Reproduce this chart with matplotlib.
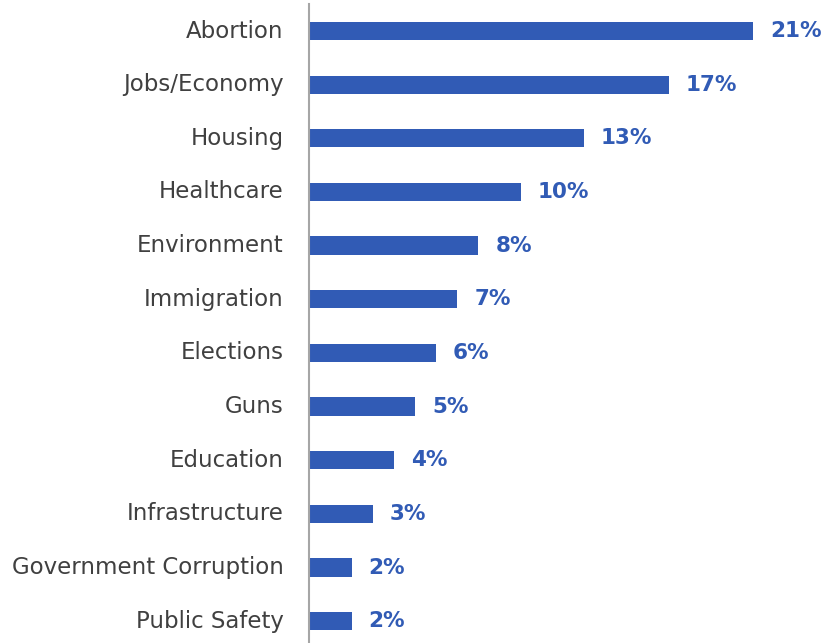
import matplotlib.pyplot as plt

categories = [
    "Abortion", "Jobs/Economy", "Housing", "Healthcare", "Environment",
    "Immigration", "Elections", "Guns", "Education", "Infrastructure",
    "Government Corruption", "Public Safety",
]
values = [21, 17, 13, 10, 8, 7, 6, 5, 4, 3, 2, 2]

bar_color = "#315BB5"

fig = plt.figure(figsize=(8.24, 6.43), dpi=100)
ax = fig.add_axes([0.3755, -0.0078, 0.6245, 1.0013])

y = list(range(len(categories)))
ax.barh(y, values, height=0.34, color=bar_color)
ax.set_ylim(len(categories) - 0.5, -0.5)
ax.set_xlim(0, 24.36)

ax.set_yticks(y)
ax.set_yticklabels(categories, fontsize=16.5, color="#404040", va="center")
ax.tick_params(axis="y", length=0, pad=18.5)
ax.set_xticks([])

for spine in ["top", "right", "bottom"]:
    ax.spines[spine].set_visible(False)
ax.spines["left"].set_color("#A6A6A6")
ax.spines["left"].set_linewidth(1.5)

for yi, v in zip(y, values):
    ax.text(v + 0.8, yi, f"{v}%", va="center", ha="left",
            fontsize=15.5, fontweight="bold", color=bar_color)

fig.savefig("out.png", dpi=100)
